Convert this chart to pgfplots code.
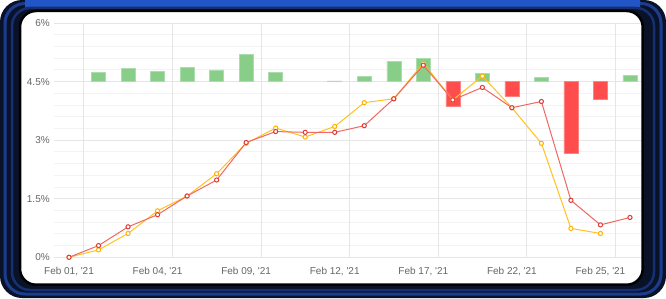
\documentclass[border=0pt]{standalone}
\usepackage{pgfplots}
\pgfplotsset{compat=1.18}
\usepackage{fontspec}
\setmainfont{Liberation Sans}
\definecolor{gridc}{HTML}{E6E6E6}
\definecolor{minorc}{HTML}{F3F3F3}
\definecolor{basec}{HTML}{CCD6EB}
\definecolor{labc}{HTML}{666666}
\definecolor{barg}{HTML}{88CE88}
\definecolor{barr}{HTML}{FF4C4C}
\definecolor{liner}{HTML}{F06862}
\definecolor{markr}{HTML}{E53935}
\definecolor{liney}{HTML}{FFC21F}
\definecolor{marky}{HTML}{FFB300}
\definecolor{framedark}{HTML}{0A1228}
\definecolor{frameblue}{HTML}{1A3D8F}
\definecolor{framebright}{HTML}{2256C8}
% bar values: change relative to the 4.5% baseline
\pgfplotstableread{
x v
1 0.23
2 0.34
3 0.26
4 0.37
5 0.30
6 0.70
7 0.23
9 0.02
10 0.13
11 0.51
12 0.60
14 0.21
16 0.11
19 0.15
}\greenbars
\pgfplotstableread{
x v
13 -0.63
15 -0.37
17 -1.83
18 -0.45
}\redbars
\pgfplotstableread{
x v
0 0.00
1 0.30
2 0.78
3 1.09
4 1.57
5 1.98
6 2.94
7 3.22
8 3.20
9 3.20
10 3.37
11 4.06
12 4.92
13 4.03
14 4.35
15 3.83
16 3.99
17 1.46
18 0.83
19 1.02
}\redline
\pgfplotstableread{
x v
0 0.00
1 0.19
2 0.61
3 1.19
4 1.57
5 2.14
6 2.92
7 3.31
8 3.08
9 3.35
10 3.96
11 4.06
12 4.97
13 4.03
14 4.64
15 3.83
16 2.92
17 0.74
18 0.61
}\yellowline
\begin{document}
\begin{tikzpicture}[x=1pt,y=1pt]
\useasboundingbox (0,0) rectangle (666,298);
\fill[white] (0,0) rectangle (666,298);
\begin{axis}[
  at={(54.25pt,40.7pt)}, anchor=south west,
  scale only axis, width=589pt, height=234.3pt,
  xmin=-0.5, xmax=19.45, ymin=-4.5, ymax=1.5,
  axis line style={draw=none},
  major tick length=0pt, minor tick length=0pt,
  xtick={0,3,6,9,12,15,18},
  xticklabels={{Feb 01, \textquotesingle21},{Feb 04, \textquotesingle21},{Feb 09, \textquotesingle21},{Feb 12, \textquotesingle21},{Feb 17, \textquotesingle21},{Feb 22, \textquotesingle21},{Feb 25, \textquotesingle21}},
  extra x ticks={0.5,3.5,6.5,9.5,12.5,15.5,18.5},
  extra x tick labels={},
  extra x tick style={grid=major},
  ytick={-4.5,-3,-1.5,0,1.5},
  yticklabels={0\%,1.5\%,3\%,4.5\%,6\%},
  minor y tick num=4,
  ymajorgrids, yminorgrids,
  major grid style={gridc, line width=0.8pt},
  minor grid style={minorc, line width=0.8pt},
  extra y ticks={-4.5},
  extra y tick labels={},
  extra y tick style={grid style={basec, line width=1pt}},
  tick label style={font=\fontsize{10}{12}\selectfont, text=labc},
  xticklabel style={yshift=-6pt},
  yticklabel style={xshift=-1pt},
  ybar, bar width=14pt, bar shift=0pt,
]
\addplot[fill=barg, draw=barg!70!white, line width=0.5pt] table[x=x,y=v] {\greenbars};
\addplot[fill=barr, draw=barr!70!white, line width=0.5pt] table[x=x,y=v] {\redbars};
\end{axis}
\begin{axis}[
  at={(54.25pt,40.7pt)}, anchor=south west,
  scale only axis, width=589pt, height=234.3pt,
  xmin=-0.5, xmax=19.45, ymin=0, ymax=6,
  hide axis, clip=false,
]
\addplot[liney, line width=1pt, mark=*, mark size=2.1pt, mark options={fill=white, draw=marky, line width=1pt}] table[x=x,y=v] {\yellowline};
\addplot[liner, line width=1pt, mark=*, mark size=2.1pt, mark options={fill=white, draw=markr, line width=1pt}] table[x=x,y=v] {\redline};
\end{axis}
% device frame
\fill[white, even odd rule] (0,0) rectangle (666,298) [rounded corners=22pt] (0,0) rectangle (666,298);
\fill[framedark, even odd rule] [rounded corners=22pt] (0,0) rectangle (666,298) [rounded corners=16pt] (20,13.3) rectangle (642.7,287);
\draw[frameblue, line width=3pt, rounded corners=20pt] (5,4) rectangle (661,294.5);
\begin{scope}
\clip (25,287) rectangle (640,298);
\fill[framebright] (0,290) rectangle (666,298);
\end{scope}
\draw[frameblue!70!framedark, line width=2.5pt, rounded corners=18pt] (12,8) rectangle (654,290);
\draw[black, line width=2.5pt, rounded corners=16pt] (20,13.3) rectangle (642.7,287);
\end{tikzpicture}
\end{document}
